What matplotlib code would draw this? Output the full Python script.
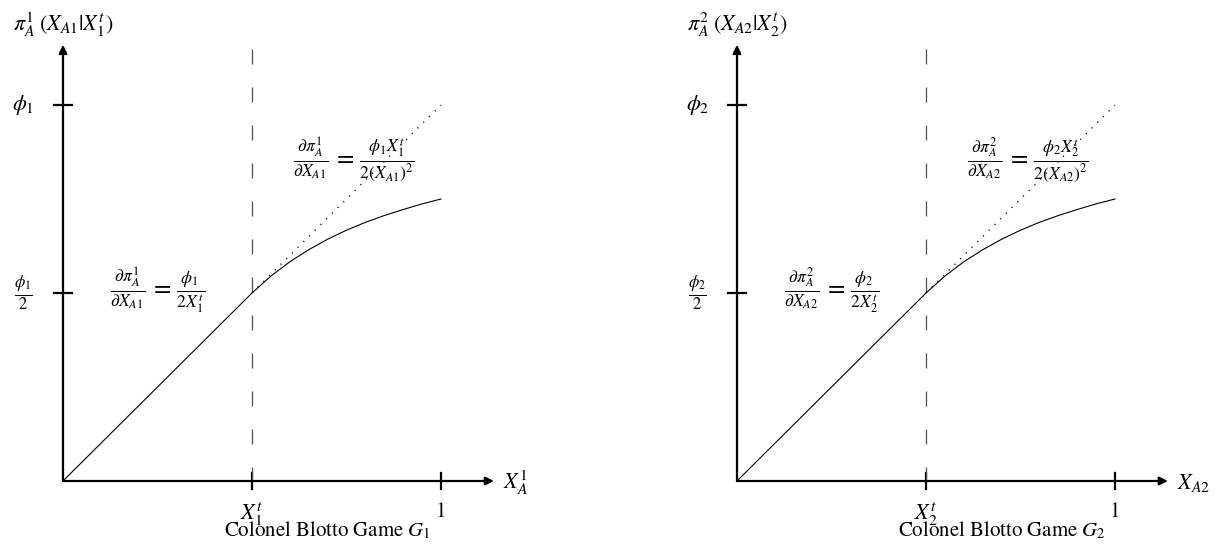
import matplotlib.pyplot as plt

plt.rcParams['mathtext.fontset'] = 'stix'
plt.rcParams['font.family'] = 'STIXGeneral'

# data (phi = 1, x in units of the total budget)
panels = [1, 2]
x_threshold = 0.5
x_one = 1.0
phi = 1.0
curve_x = [0.0, 0.5, 0.55, 0.6, 0.65, 0.7, 0.75, 0.8, 0.85, 0.9, 0.95, 1.0]
curve_y = [0.0, 0.5, 0.545, 0.583, 0.615, 0.643, 0.667, 0.688, 0.706, 0.722, 0.737, 0.75]
dotted_x = [0.5, 1.0]
dotted_y = [0.5, 1.0]

ylabels = [r'$\pi_A^1\;(X_{A1}|X_1^t)$', r'$\pi_A^2\;(X_{A2}|X_2^t)$']
xlabels = [r'$X_A^1$', r'$X_{A2}$']
titles = [r'Colonel Blotto Game $G_1$', r'Colonel Blotto Game $G_2$']

fig = plt.figure(figsize=(12.16, 5.46), dpi=100)

px_x = 378.0
px_y = 376.0
origins = [63, 737]

for i, k in enumerate(panels):
    left = i * 608
    ax = fig.add_axes([i * 0.5, 0, 0.5, 1])
    ax.set_xlim((left - origins[i]) / px_x, (left + 608 - origins[i]) / px_x)
    ax.set_ylim(-65 / px_y, 481 / px_y)
    ax.axis('off')

    # axes with arrows
    ax.annotate('', xy=(1.14, 0), xytext=(0, 0),
                arrowprops=dict(arrowstyle='-|>', lw=1.6, color='k',
                                mutation_scale=12, shrinkA=0, shrinkB=0))
    ax.annotate('', xy=(0, 1.16), xytext=(0, 0),
                arrowprops=dict(arrowstyle='-|>', lw=1.6, color='k',
                                mutation_scale=12, shrinkA=0, shrinkB=0))

    # ticks
    for yv in [phi, phi / 2]:
        ax.plot([-0.024, 0.024], [yv, yv], color='k', lw=1.6)
    for xv in [x_threshold, x_one]:
        ax.plot([xv, xv], [-0.021, 0.021], color='k', lw=1.6)

    # dashed threshold line
    ax.plot([x_threshold, x_threshold], [1.15, 0], color='0.3', lw=0.9,
            dashes=(12, 18.4))

    # payoff curve and its linear continuation
    ax.plot(curve_x, curve_y, color='k', lw=0.8)
    ax.plot(dotted_x, dotted_y, color='k', lw=1.0, dashes=(0.8, 5))

    fs = 15
    ax.text(0, 1.213, ylabels[i], ha='center', va='center', fontsize=fs + 1)
    ax.text(-0.105, phi, r'$\phi_%d$' % k, ha='center', va='center', fontsize=fs + 1)
    ax.text(-0.105, phi / 2, r'$\frac{\phi_%d}{2}$' % k, ha='center', va='center', fontsize=fs + 2)
    ax.text(0.249, 0.508,
            r'$\frac{\partial\pi_A^%d}{\partial X_{A%d}}\,=\,\frac{\phi_%d}{2X_%d^t}$' % (k, k, k, k),
            ha='center', va='center', fontsize=fs + 3)
    ax.text(0.77, 0.854,
            r'$\frac{\partial\pi_A^%d}{\partial X_{A%d}}\,=\,\frac{\phi_%d X_%d^t}{2(X_{A%d})^2}$' % (k, k, k, k, k),
            ha='center', va='center', fontsize=fs + 3)
    ax.text(x_threshold, -0.09, r'$X_%d^t$' % k, ha='center', va='center', fontsize=fs + 1)
    ax.text(x_one, -0.083, '1', ha='center', va='center', fontsize=fs)
    ax.text(0.70, -0.132, titles[i], ha='center', va='center', fontsize=fs)
    ax.text(1.165, -0.005, xlabels[i], ha='left', va='center', fontsize=fs + 1)

fig.savefig('out.png', dpi=100)
